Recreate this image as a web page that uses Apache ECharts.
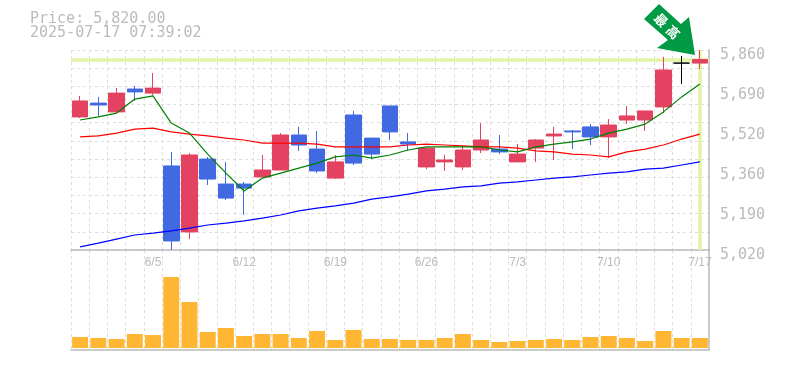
<!DOCTYPE html>
<html>
<head>
<meta charset="utf-8">
<style>html,body{margin:0;padding:0;background:#fff}#c{width:785px;height:370px}</style>
<script src="https://cdn.jsdelivr.net/npm/echarts@6/dist/echarts.min.js"></script>
</head>
<body>
<div id="c"></div>
<script>
const categories = ['5/30','6/2','6/3','6/4','6/5','6/6','6/9','6/10','6/11','6/12','6/13','6/16','6/17','6/18','6/19','6/20','6/23','6/24','6/25','6/26','6/27','6/30','7/1','7/2','7/3','7/4','7/7','7/8','7/9','7/10','7/11','7/14','7/15','7/16','7/17'];
const opens  = [5579,5637,5600,5696,5679,5373,5096,5402,5297,5297,5327,5356,5503,5444,5322,5587,5490,5625,5474,5369,5390,5369,5440,5444,5390,5448,5499,5520,5537,5495,5566,5566,5621,5805,5805];
const closes = [5646,5629,5679,5684,5700,5058,5419,5318,5238,5280,5356,5503,5461,5352,5390,5385,5423,5516,5465,5448,5398,5440,5482,5432,5423,5482,5507,5516,5495,5545,5583,5604,5776,5805,5820];
const lows   = [5574,5583,5595,5646,5671,5020,5066,5293,5230,5167,5327,5356,5436,5343,5318,5377,5402,5482,5436,5360,5352,5356,5427,5423,5390,5390,5398,5444,5461,5406,5549,5520,5595,5717,5780];
const highs  = [5667,5663,5700,5709,5763,5432,5427,5411,5390,5306,5419,5511,5537,5520,5419,5604,5490,5625,5511,5448,5419,5457,5553,5503,5465,5486,5537,5524,5549,5570,5625,5604,5831,5835,5860];
const maShort = [5566,5579,5595,5654,5667,5553,5511,5423,5343,5268,5322,5343,5364,5385,5411,5419,5406,5419,5440,5453,5453,5453,5453,5440,5432,5453,5465,5474,5486,5511,5528,5549,5600,5663,5717];
const maMid   = [5495,5499,5511,5528,5532,5516,5507,5499,5490,5482,5469,5469,5469,5465,5453,5453,5453,5453,5461,5465,5461,5457,5453,5453,5448,5436,5432,5423,5419,5411,5432,5444,5461,5486,5507];
const maLong  = [5033,5049,5066,5083,5091,5100,5112,5125,5133,5142,5154,5167,5184,5196,5205,5217,5234,5243,5255,5268,5276,5285,5289,5301,5306,5314,5322,5327,5335,5343,5348,5360,5364,5377,5390];
const volumes = [11,10,9,14,13,71,46,16,20,12,14,14,10,17,8,18,9,9,8,8,10,14,8,6,7,8,9,8,11,12,10,7,17,10,10];
const tickValues = [5020,5188,5356,5524,5692,5860];
const tickLabels = ['5,020','5,190','5,360','5,520','5,690','5,860'];
const lastPrice = 5820;
const lastDate = '7/17';
const headline = 'Price: 5,820.00\n2025-07-17 07:39:02';

const RED='#E34360', BLUE='#4169E1', GRAY='#bbbbbb', GRID='#dddddd';
const candleData = categories.map((c,i)=>{
  const v=[opens[i],closes[i],lows[i],highs[i]];
  if(opens[i]===closes[i]) return {value:v,itemStyle:{color:'#000',color0:'#000',borderColor:'#000',borderColor0:'#000',borderColorDoji:'#000'}};
  return {value:v};
});
const grid1dash={show:true,lineStyle:{color:GRID,type:[3,3],width:1}};
const maLine=(name,data,color)=>({name,type:'line',data,xAxisIndex:0,yAxisIndex:0,showSymbol:false,symbol:'none',smooth:false,silent:true,z:4,lineStyle:{color,width:1.2}});

const chart=echarts.init(document.getElementById('c'),null,{renderer:'canvas'});
chart.setOption({
  animation:false,
  backgroundColor:'#fff',
  title:{text:headline,left:30,top:12,padding:0,textStyle:{fontFamily:'DejaVu Sans Mono',fontSize:15,fontWeight:'normal',color:GRAY,lineHeight:14}},
  grid:[{left:71,width:638,top:50,height:200},{left:71,width:638,top:250,height:100}],
  xAxis:[
    {type:'category',gridIndex:0,data:categories,boundaryGap:true,
     axisLine:{show:true,lineStyle:{color:GRAY,width:1.5}},axisTick:{show:false},
     axisLabel:{show:true,interval:(i)=>i%5===4,margin:7,hideOverlap:false,color:GRAY,fontFamily:'Liberation Sans',fontSize:12,showMaxLabel:true},
     splitLine:{...grid1dash,interval:0}},
    {type:'category',gridIndex:1,data:categories,boundaryGap:true,
     axisLine:{show:true,onZero:false,lineStyle:{color:GRAY,width:1.5}},axisTick:{show:false},axisLabel:{show:false},
     splitLine:{...grid1dash,interval:0}}
  ],
  yAxis:[
    {type:'value',gridIndex:0,position:'right',min:5020,max:5860,scale:true,
     axisLine:{show:true,lineStyle:{color:GRAY,width:1.5}},axisTick:{show:false},splitLine:{show:false},
     axisLabel:{show:true,customValues:tickValues,formatter:(v)=>tickLabels[tickValues.indexOf(v)],margin:11,verticalAlign:'top',lineHeight:10,color:GRAY,fontFamily:'DejaVu Sans Mono',fontSize:15}},
    {type:'value',gridIndex:0,position:'left',min:0,max:11,interval:1,
     axisLine:{show:false},axisTick:{show:false},axisLabel:{show:false},splitLine:grid1dash},
    {type:'value',gridIndex:1,position:'right',min:-2,max:98,
     axisLine:{show:true,onZero:false,lineStyle:{color:GRAY,width:1.5}},axisTick:{show:false},axisLabel:{show:false},splitLine:{show:false}}
  ],
  series:[
    {type:'line',data:[],xAxisIndex:0,yAxisIndex:0,z:1,silent:true,
     markLine:{silent:true,symbol:'none',animation:false,label:{show:false},z:1,
       lineStyle:{color:'#E2F5A6',type:'solid',width:3.5},
       data:[{yAxis:lastPrice},{xAxis:lastDate}]}},
    {type:'candlestick',data:candleData,xAxisIndex:0,yAxisIndex:0,barWidth:16,z:3,silent:true,
     itemStyle:{color:RED,color0:BLUE,borderColor:RED,borderColor0:BLUE,borderWidth:1}},
    maLine('long',maLong,'#0000ff'),
    maLine('mid',maMid,'#ff0000'),
    maLine('short',maShort,'#008000'),
    {type:'bar',data:volumes,xAxisIndex:1,yAxisIndex:2,barWidth:16,silent:true,z:3,itemStyle:{color:'#FFB733'}}
  ],
  graphic:[
    {type:'polygon',z:100,silent:true,shape:{points:[[659,4],[681,24],[689,17],[695,55],[657,48],[668,40],[644,19]]},style:{fill:'#009944'}},
    {type:'text',z:101,silent:true,x:661,y:20,rotation:-Math.PI/4,style:{text:'最',fill:'#fff',font:'bold 13px "Noto Sans CJK JP"',textAlign:'center',textVerticalAlign:'middle'}},
    {type:'text',z:101,silent:true,x:673,y:32,rotation:-Math.PI/4,style:{text:'高',fill:'#fff',font:'bold 13px "Noto Sans CJK JP"',textAlign:'center',textVerticalAlign:'middle'}}
  ]
});
</script>
</body>
</html>
